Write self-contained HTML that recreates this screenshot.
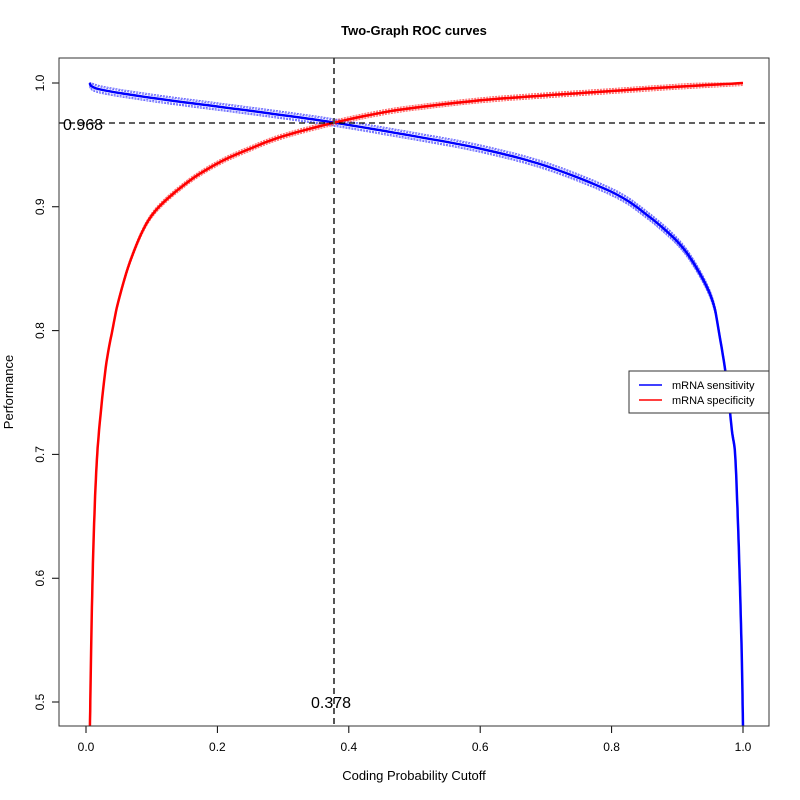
<!DOCTYPE html>
<html><head><style>body{margin:0;background:#fff}svg{display:block;font-family:"Liberation Sans",sans-serif}</style></head>
<body>
<svg id="s" width="800" height="800" xmlns="http://www.w3.org/2000/svg">
<rect width="800" height="800" fill="#fff"/>
<text x="414" y="35" text-anchor="middle" font-size="13" font-weight="bold">Two-Graph ROC curves</text>
<text x="414" y="780" text-anchor="middle" font-size="13">Coding Probability Cutoff</text>
<text transform="translate(13,392) rotate(-90)" text-anchor="middle" font-size="13">Performance</text>
<g id="ax" stroke="#000" fill="none"></g>
<g id="curves"></g>
<line x1="59" y1="123" x2="769" y2="123" stroke="#000" stroke-dasharray="6,4" stroke-width="1.2"/>
<line x1="334" y1="58" x2="334" y2="726" stroke="#555" stroke-dasharray="6,4" stroke-width="2"/>
<text x="63" y="130" font-size="16">0.968</text>
<text x="311" y="708" font-size="16">0.378</text>
<rect x="59" y="58" width="710" height="668" fill="none" stroke="#333"/>
<rect x="629" y="371" width="140" height="42" fill="#fff" stroke="#333"/>
<line x1="639" y1="385" x2="662" y2="385" stroke="#00f" stroke-width="1.5"/>
<line x1="639" y1="400" x2="662" y2="400" stroke="#f00" stroke-width="1.5"/>
<text x="672" y="389" font-size="11">mRNA sensitivity</text>
<text x="672" y="404" font-size="11">mRNA specificity</text>
</svg>
<script>
const X=p=>86+657*p, Y=v=>83+(1-v)*1238;
const ns="http://www.w3.org/2000/svg";
const ax=document.getElementById('ax'), cv=document.getElementById('curves'), s=document.getElementById('s');
function el(p,t,a){const e=document.createElementNS(ns,t);for(const k in a)e.setAttribute(k,a[k]);p.appendChild(e);return e;}
let d="M"+X(0)+" 733V726H"+X(1)+"V733";
for(let i=0;i<=5;i++){const x=X(i*0.2);d+="M"+x+" 726V733";el(s,'text',{x:x,y:751,'text-anchor':'middle','font-size':12}).textContent=(i*0.2).toFixed(1);}
d+="M52 "+Y(0.5)+"H59V"+Y(1)+"H52";
for(let i=0;i<=5;i++){const v=0.5+i*0.1,y=Y(v);d+="M52 "+y+"H59";el(s,'text',{transform:`translate(44,${y}) rotate(-90)`,'text-anchor':'middle','font-size':12}).textContent=v.toFixed(1);}
el(ax,'path',{d:d});
const red=[[0.006,0.48],[0.008,0.55],[0.011,0.62],[0.015,0.68],[0.02,0.72],[0.03,0.77],[0.04,0.80],[0.05,0.825],[0.07,0.86],[0.1,0.893],[0.15,0.918],[0.2,0.935],[0.25,0.947],[0.3,0.957],[0.378,0.968],[0.45,0.976],[0.5,0.98],[0.6,0.986],[0.7,0.99],[0.8,0.9935],[0.9,0.997],[1,1]];
const blue=[[0.005,1],[0.02,0.995],[0.1,0.988],[0.2,0.981],[0.3,0.974],[0.378,0.968],[0.5,0.957],[0.6,0.947],[0.7,0.933],[0.8,0.912],[0.85,0.895],[0.9,0.872],[0.93,0.85],[0.953,0.825],[0.963,0.8],[0.975,0.76],[0.983,0.72],[0.988,0.7],[0.992,0.65],[0.995,0.6],[0.998,0.54],[1,0.48]];
function smooth(pts){const o=[];for(let i=0;i<pts.length-1;i++){const p0=pts[Math.max(0,i-1)],p1=pts[i],p2=pts[i+1],p3=pts[Math.min(pts.length-1,i+2)];
 for(let k=0;k<8;k++){const t=k/8,t2=t*t,t3=t2*t;const f=(a,b,c,d)=>0.5*(2*b+(-a+c)*t+(2*a-5*b+4*c-d)*t2+(-a+3*b-3*c+d)*t3);
 o.push([f(p0[0],p1[0],p2[0],p3[0]),f(p0[1],p1[1],p2[1],p3[1])]);}}o.push(pts[pts.length-1]);return o;}
function path(pts,dv){return smooth(pts).map((q,i)=>(i?"L":"M")+X(q[0]).toFixed(1)+" "+Y(Math.min(1,q[1]+dv)).toFixed(1)).join("");}
const clip=el(s,'clipPath',{id:'c'});el(clip,'rect',{x:59,y:58,width:710,height:668});
cv.setAttribute('clip-path','url(#c)');
[[-0.003,0.002],[0.003,-0.002],[-0.002,-0.001],[0.002,0.001]].forEach(o=>{
 el(cv,'path',{d:path(blue,o[0]),fill:'none',stroke:'#66f','stroke-width':1,'stroke-dasharray':'2,1'});
 el(cv,'path',{d:path(red,o[1]),fill:'none',stroke:'#f66','stroke-width':1,'stroke-dasharray':'2,1'});
});
el(cv,'path',{d:path(blue,0),fill:'none',stroke:'#00f','stroke-width':2.5});
el(cv,'path',{d:path(red,0),fill:'none',stroke:'#f00','stroke-width':2.5});
</script>
</body></html>
